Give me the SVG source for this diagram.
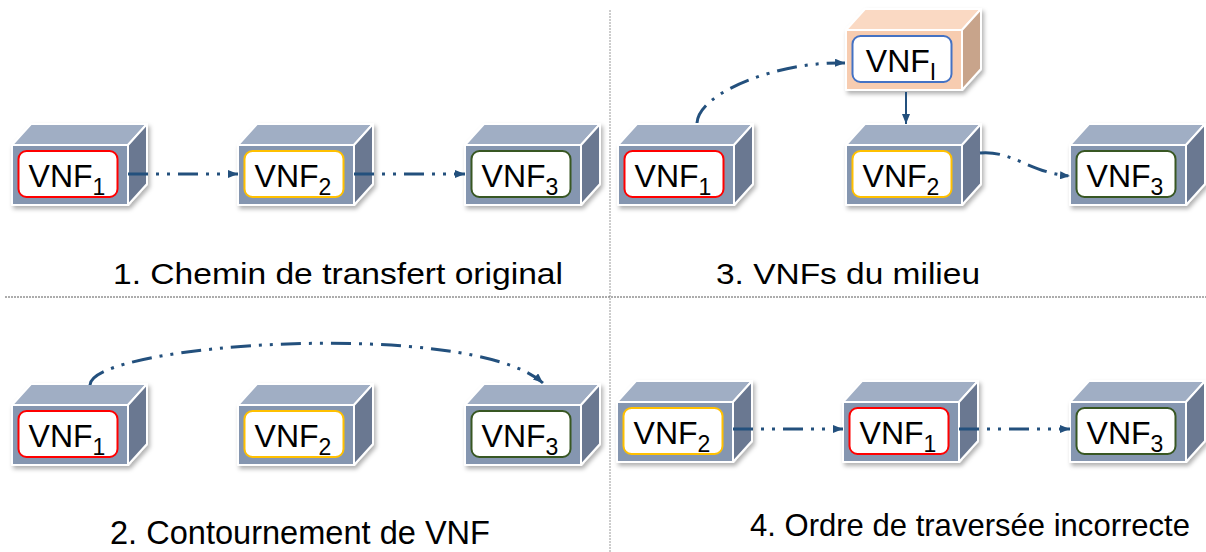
<svg xmlns="http://www.w3.org/2000/svg" xmlns:xlink="http://www.w3.org/1999/xlink" width="1206" height="552" viewBox="0 0 1206 552">
<style>
.front{fill:#8596B0;stroke:#fff;stroke-width:2;stroke-linejoin:round}
.top{fill:#A0AEC4;stroke:#fff;stroke-width:2;stroke-linejoin:round}
.side{fill:#6A7891;stroke:#fff;stroke-width:2;stroke-linejoin:round}
.pfront{fill:#F7CCB0;stroke:#fff;stroke-width:2;stroke-linejoin:round}
.ptop{fill:#FAD9C3;stroke:#fff;stroke-width:2;stroke-linejoin:round}
.pside{fill:#C8A48B;stroke:#fff;stroke-width:2;stroke-linejoin:round}
.lbl{fill:#fff;stroke-width:2}
.red{stroke:#FF0000}.yel{stroke:#FFC000}.grn{stroke:#385723}.blu{stroke:#4472C4}
.vnf{font-family:"Liberation Sans",Arial,sans-serif;font-size:32px;fill:#000;text-anchor:middle}
.sub{font-size:23px}
.title{font-family:"Liberation Sans",Arial,sans-serif;font-size:30px;fill:#000}
.title2{font-family:"Liberation Sans",Arial,sans-serif;font-size:34px;fill:#000}
.title3{font-family:"Liberation Sans",Arial,sans-serif;font-size:32px;fill:#000}
.conn{fill:none;stroke:#23507D;stroke-width:3;stroke-dasharray:20 8 3 8 3 8;marker-end:url(#arr)}
.solid{fill:none;stroke:#23507D;stroke-width:2;marker-end:url(#arr)}
.div{fill:none;stroke-width:1;stroke-dasharray:2 1}
</style>
<defs>
<filter id="sh" x="-10%" y="-10%" width="130%" height="140%">
<feDropShadow dx="2" dy="3" stdDeviation="2" flood-color="#000" flood-opacity="0.3"/>
</filter>
<marker id="arr" viewBox="0 0 10 8" refX="10" refY="4" markerWidth="10" markerHeight="8" markerUnits="userSpaceOnUse" orient="auto">
<path d="M0,0 L10,4 L0,8 z" fill="#23507D"/>
</marker>
<g id="cube" filter="url(#sh)">
<polygon class="top" points="0,0 19,-21 135,-21 116,0"/>
<polygon class="side" points="116,0 135,-21 135,39 116,60"/>
<rect class="front" x="0" y="0" width="116" height="60"/>
</g>
<g id="pcube" filter="url(#sh)">
<polygon class="ptop" points="0,0 19,-21 135,-21 116,0"/>
<polygon class="pside" points="116,0 135,-21 135,39 116,60"/>
<rect class="pfront" x="0" y="0" width="116" height="60"/>
</g>
</defs>
<rect width="1206" height="552" fill="#fff"/>

<g id="dividers">
<line class="div" x1="610" y1="10" x2="610" y2="552" stroke="#9A9A9A"/>
<line class="div" x1="5" y1="297" x2="1206" y2="297" stroke="#5A5A5A"/>
</g>

<!-- Panel 1 -->
<g id="p1-vnf1" transform="translate(12,145)"><use href="#cube"/><rect class="lbl red" x="6.5" y="6" width="99" height="46" rx="8"/><text class="vnf" x="55" y="42">VNF<tspan class="sub" dy="8">1</tspan></text></g>
<g id="p1-vnf2" transform="translate(238,145)"><use href="#cube"/><rect class="lbl yel" x="6.5" y="6" width="99" height="46" rx="8"/><text class="vnf" x="55" y="42">VNF<tspan class="sub" dy="8">2</tspan></text></g>
<g id="p1-vnf3" transform="translate(465,145)"><use href="#cube"/><rect class="lbl grn" x="6.5" y="6" width="99" height="46" rx="8"/><text class="vnf" x="55" y="42">VNF<tspan class="sub" dy="8">3</tspan></text></g>

<!-- Panel 3 -->
<g id="p3-vnf1" transform="translate(618,145)"><use href="#cube"/><rect class="lbl red" x="6.5" y="6" width="99" height="46" rx="8"/><text class="vnf" x="55" y="42">VNF<tspan class="sub" dy="8">1</tspan></text></g>
<g id="p3-vnfi" transform="translate(846,30)"><use href="#pcube"/><rect class="lbl blu" x="6.5" y="6" width="99" height="46" rx="8"/><text class="vnf" x="55" y="42">VNF<tspan class="sub" dy="8">I</tspan></text></g>
<g id="p3-vnf2" transform="translate(846,145)"><use href="#cube"/><rect class="lbl yel" x="6.5" y="6" width="99" height="46" rx="8"/><text class="vnf" x="55" y="42">VNF<tspan class="sub" dy="8">2</tspan></text></g>
<g id="p3-vnf3" transform="translate(1070,145)"><use href="#cube"/><rect class="lbl grn" x="6.5" y="6" width="99" height="46" rx="8"/><text class="vnf" x="55" y="42">VNF<tspan class="sub" dy="8">3</tspan></text></g>

<!-- Panel 2 -->
<g id="p2-vnf1" transform="translate(12,405)"><use href="#cube"/><rect class="lbl red" x="6.5" y="6" width="99" height="46" rx="8"/><text class="vnf" x="55" y="42">VNF<tspan class="sub" dy="8">1</tspan></text></g>
<g id="p2-vnf2" transform="translate(238,405)"><use href="#cube"/><rect class="lbl yel" x="6.5" y="6" width="99" height="46" rx="8"/><text class="vnf" x="55" y="42">VNF<tspan class="sub" dy="8">2</tspan></text></g>
<g id="p2-vnf3" transform="translate(465,405)"><use href="#cube"/><rect class="lbl grn" x="6.5" y="6" width="99" height="46" rx="8"/><text class="vnf" x="55" y="42">VNF<tspan class="sub" dy="8">3</tspan></text></g>

<!-- Panel 4 -->
<g id="p4-vnf2" transform="translate(617,402)"><use href="#cube"/><rect class="lbl yel" x="6.5" y="6" width="99" height="46" rx="8"/><text class="vnf" x="55" y="42">VNF<tspan class="sub" dy="8">2</tspan></text></g>
<g id="p4-vnf1" transform="translate(843,402)"><use href="#cube"/><rect class="lbl red" x="6.5" y="6" width="99" height="46" rx="8"/><text class="vnf" x="55" y="42">VNF<tspan class="sub" dy="8">1</tspan></text></g>
<g id="p4-vnf3" transform="translate(1070,402)"><use href="#cube"/><rect class="lbl grn" x="6.5" y="6" width="99" height="46" rx="8"/><text class="vnf" x="55" y="42">VNF<tspan class="sub" dy="8">3</tspan></text></g>

<g id="connectors">
<path class="conn" d="M128,174 L238,174"/>
<path class="conn" d="M354,174 L465,174"/>
<path class="conn" d="M697,123 C699,92 780,61 845,63"/>
<path class="solid" d="M906,92 L906,124"/>
<path class="conn" d="M980,153 C1012,150 1030,173 1070,176"/>
<path class="conn" d="M90,385 C92,343 470,318 543,383"/>
<path class="conn" d="M733,429 L843,429"/>
<path class="conn" d="M959,429 L1070,429"/>
</g>

<g id="titles">
<text class="title" x="113" y="284" textLength="450" lengthAdjust="spacingAndGlyphs">1. Chemin de transfert original</text>
<text class="title" x="716" y="284" textLength="264" lengthAdjust="spacingAndGlyphs">3. VNFs du milieu</text>
<text class="title2" x="110" y="544" textLength="380" lengthAdjust="spacingAndGlyphs">2. Contournement de VNF</text>
<text class="title3" x="750" y="536" textLength="440" lengthAdjust="spacingAndGlyphs">4. Ordre de traversée incorrecte</text>
</g>
</svg>
